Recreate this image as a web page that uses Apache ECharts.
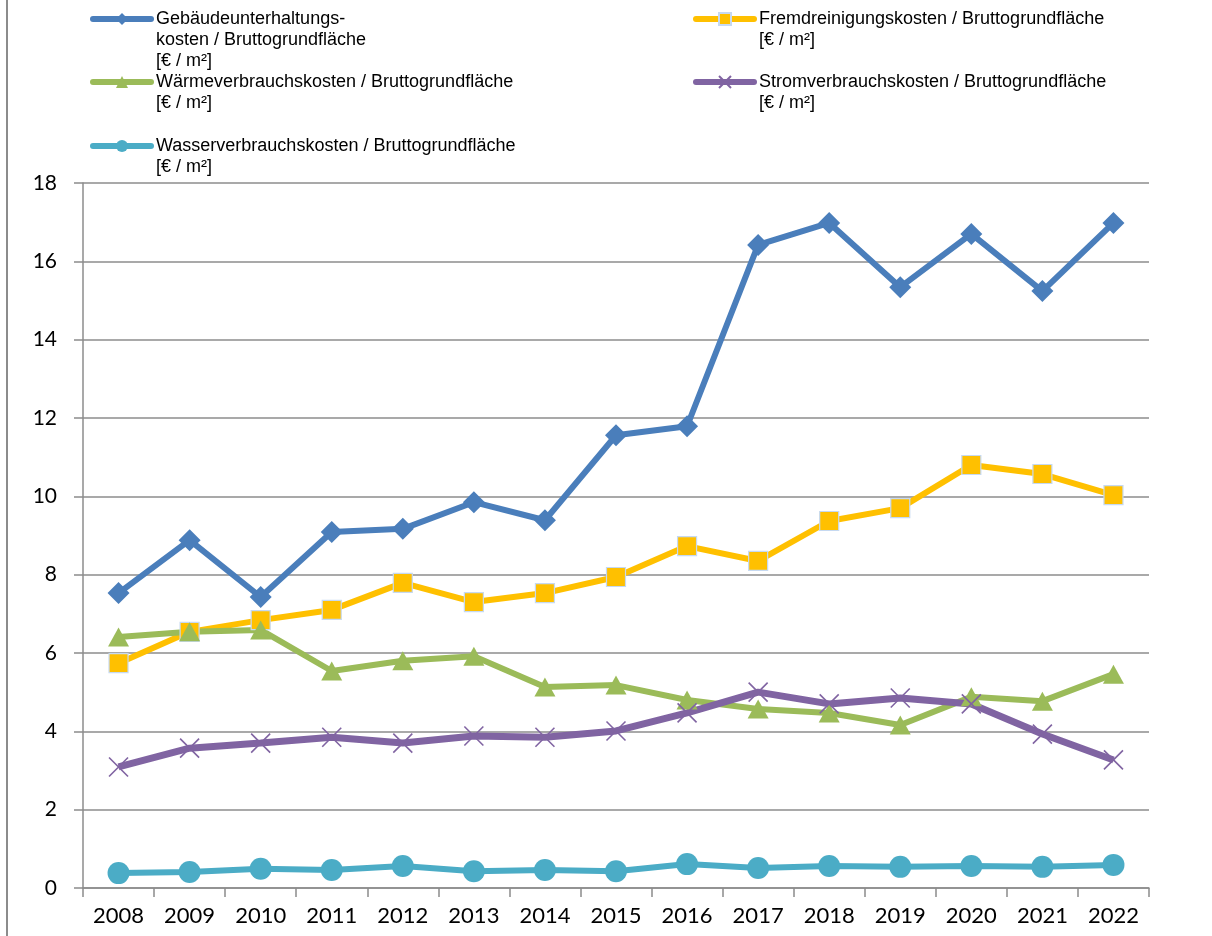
<!DOCTYPE html>
<html>
<head>
<meta charset="utf-8">
<style>
  html, body { margin: 0; padding: 0; background: #fff; }
  #chart { width: 1212px; height: 936px; }
</style>
<script src="https://cdn.jsdelivr.net/npm/echarts@6/dist/echarts.min.js"></script>
</head>
<body>
<div id="chart"></div>
<script>
(function () {
  const years = ['2008', '2009', '2010', '2011', '2012', '2013', '2014', '2015',
    '2016', '2017', '2018', '2019', '2020', '2021', '2022'];

  const gebaeude = [7.53, 8.88, 7.43, 9.09, 9.17, 9.85, 9.39, 11.56, 11.79, 16.42, 16.98, 15.34, 16.70, 15.24, 16.98];
  const fremd = [5.74, 6.54, 6.84, 7.10, 7.79, 7.30, 7.53, 7.94, 8.73, 8.35, 9.37, 9.70, 10.80, 10.57, 10.03];
  const waerme = [6.41, 6.54, 6.59, 5.54, 5.80, 5.92, 5.13, 5.18, 4.80, 4.57, 4.47, 4.16, 4.88, 4.77, 5.46];
  const strom = [3.09, 3.57, 3.70, 3.85, 3.70, 3.88, 3.85, 4.01, 4.47, 5.00, 4.70, 4.85, 4.70, 3.93, 3.27];
  const wasser = [0.38, 0.41, 0.49, 0.46, 0.56, 0.43, 0.46, 0.43, 0.61, 0.51, 0.56, 0.54, 0.56, 0.54, 0.59];

  const names = [
    'Gebäudeunterhaltungs-\nkosten / Bruttogrundfläche\n[€ / m²]',
    'Fremdreinigungskosten / Bruttogrundfläche\n[€ / m²]',
    'Wärmeverbrauchskosten / Bruttogrundfläche\n[€ / m²]',
    'Stromverbrauchskosten / Bruttogrundfläche\n[€ / m²]',
    'Wasserverbrauchskosten / Bruttogrundfläche\n[€ / m²]'
  ];

  const gridColor = '#8c8c8c';
  const labelFont = 'Lato, "Open Sans", sans-serif';
  const legendFont = '"Liberation Sans", Arial, sans-serif';
  const lineH = 21;
  const crossPath = 'path://M0,0L10,10M10,0L0,10';

  // one legend per entry; blank lines on top keep the icon level with the first line
  function legendAt(name, left, firstLineY) {
    const lines = name.split('\n').length;
    const total = 2 * lines - 1;
    return {
      data: [name],
      left: left,
      top: firstLineY - (total * lineH) / 2,
      padding: 0,
      itemWidth: 58,
      itemHeight: 15,
      itemGap: 0,
      lineStyle: { width: 6, cap: 'round' },
      formatter: (n) => '\n'.repeat(lines - 1) + n,
      textStyle: {
        fontFamily: legendFont,
        fontSize: 18,
        color: '#000',
        lineHeight: lineH
      }
    };
  }

  const chart = echarts.init(document.getElementById('chart'));

  chart.setOption({
    animation: false,
    backgroundColor: '#fff',
    graphic: [{
      type: 'rect',
      left: 6,
      top: 0,
      shape: { width: 2, height: 936 },
      style: { fill: gridColor }
    }],
    legend: [
      legendAt(names[0], 90, 19),
      legendAt(names[1], 693, 19),
      legendAt(names[2], 90, 82),
      legendAt(names[3], 693, 82),
      legendAt(names[4], 90, 146)
    ],
    grid: {
      left: 83,
      right: 63,
      top: 183,
      bottom: 48
    },
    xAxis: {
      type: 'category',
      data: years,
      boundaryGap: true,
      axisLine: { lineStyle: { color: gridColor, width: 1.5 } },
      axisTick: { show: true, length: 9, lineStyle: { color: gridColor, width: 1.5 } },
      axisLabel: {
        color: '#000',
        fontFamily: labelFont,
        fontSize: 22,
        margin: 17
      }
    },
    yAxis: {
      type: 'value',
      min: 0,
      max: 18,
      interval: 2,
      axisLine: { show: true, lineStyle: { color: gridColor, width: 1.5 } },
      axisTick: { show: true, length: 9, lineStyle: { color: gridColor, width: 1.5 } },
      splitLine: { lineStyle: { color: gridColor, width: 1.5 } },
      axisLabel: {
        color: '#000',
        fontFamily: labelFont,
        fontSize: 21,
        margin: 26
      }
    },
    series: [
      {
        name: names[0],
        type: 'line',
        data: gebaeude,
        symbol: 'diamond',
        symbolSize: 22,
        lineStyle: { color: '#4a7ebb', width: 6 },
        itemStyle: { color: '#4a7ebb' }
      },
      {
        name: names[1],
        type: 'line',
        data: fremd,
        symbol: 'rect',
        symbolSize: 19,
        lineStyle: { color: '#ffc000', width: 6 },
        itemStyle: { color: '#ffc000', borderColor: '#c6d9f1', borderWidth: 1.2 }
      },
      {
        name: names[2],
        type: 'line',
        data: waerme,
        symbol: 'triangle',
        symbolSize: [21, 19],
        lineStyle: { color: '#9bbb59', width: 6 },
        itemStyle: { color: '#9bbb59' }
      },
      {
        name: names[3],
        type: 'line',
        data: strom,
        symbol: crossPath,
        symbolSize: 19,
        lineStyle: { color: '#8064a2', width: 7 },
        itemStyle: { color: 'rgba(0,0,0,0)', borderColor: '#8064a2', borderWidth: 1.6 }
      },
      {
        name: names[4],
        type: 'line',
        data: wasser,
        symbol: 'circle',
        symbolSize: 22,
        lineStyle: { color: '#4bacc6', width: 6 },
        itemStyle: { color: '#4bacc6' }
      }
    ]
  });

  window.addEventListener('resize', () => chart.resize());
})();
</script>
</body>
</html>
